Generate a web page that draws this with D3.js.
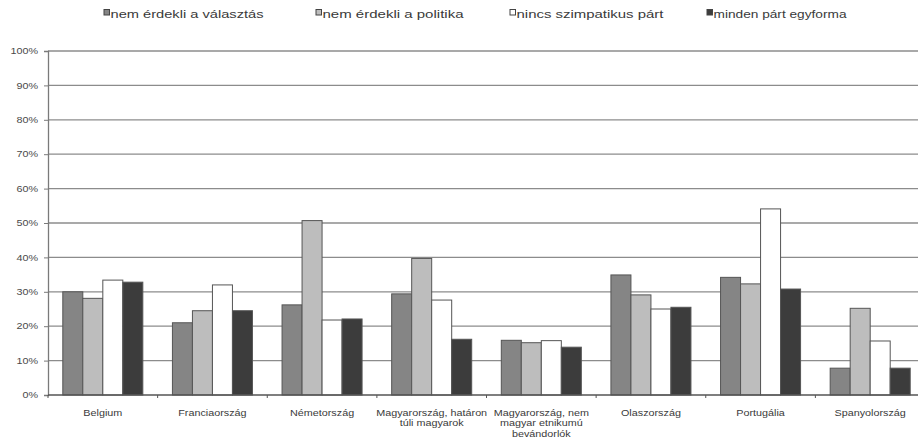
<!DOCTYPE html>
<html>
<head>
<meta charset="utf-8">
<script src="https://cdn.jsdelivr.net/npm/d3@7"></script>
<style>
  body { margin: 0; background: #fff; }
  svg { display: block; font-family: "Liberation Sans", Arial, sans-serif; }
</style>
</head>
<body>
<div id="content"></div>
<script>
// categories (countries), line breaks as in the original
const countries = [
    ["Belgium"],
    ["Franciaország"],
    ["Németország"],
    ["Magyarország, határon", "túli magyarok"],
    ["Magyarország, nem", "magyar etnikumú", "bevándorlók"],
    ["Olaszország"],
    ["Portugália"],
    ["Spanyolország"]
];

const seriesNames = [
    "nem érdekli a választás",
    "nem érdekli a politika",
    "nincs szimpatikus párt",
    "minden párt egyforma"
];

// values in percent, one array per series
const valasztas = [30.0, 21.0, 26.2, 29.4, 15.9, 34.9, 34.2, 7.8];
const politika  = [28.1, 24.5, 50.7, 39.7, 15.2, 29.1, 32.3, 25.2];
const szimpat   = [33.4, 32.0, 21.8, 27.6, 15.8, 25.0, 54.1, 15.7];
const egyforma  = [32.8, 24.5, 22.1, 16.2, 13.9, 25.5, 30.8, 7.8];

const yTicks = [0, 10, 20, 30, 40, 50, 60, 70, 80, 90, 100];

const seriesColors = ["#858585", "#bdbdbd", "#ffffff", "#3c3c3c"];

function init() {
    let width = 918,
        height = 441;
    let left = 48, right = 925, top = 51, bottom = 395;
    // the original picture is stretched sideways, so is the text
    let stretch = 1.27;

    let svg = d3.select("#content")
        .append("svg")
        .attr("width", width)
        .attr("height", height);

    let allSeries = [valasztas, politika, szimpat, egyforma];

    let x = d3.scaleBand()
        .domain(d3.range(countries.length))
        .range([left, right])
        .padding(0);

    let x1 = d3.scaleBand()
        .domain(d3.range(seriesNames.length))
        .range([0, x.bandwidth()])
        .paddingOuter(0.74)
        .paddingInner(0);

    let y = d3.scaleLinear().domain([0, 100]).range([bottom, top]);

    // grid lines
    svg.append("g")
        .selectAll("line")
        .data(yTicks.filter(d => d > 0))
        .enter()
        .append("line")
        .attr("x1", left)
        .attr("x2", width)
        .attr("y1", d => y(d))
        .attr("y2", d => y(d))
        .attr("stroke", "#8c8c8c")
        .attr("stroke-width", 1.3);

    // y axis
    let yAxis = svg.append("g")
        .attr("transform", `translate(${left},0)`)
        .call(d3.axisLeft(y).tickValues(yTicks).tickFormat(d => d + "%").tickSize(4));
    yAxis.select(".domain").attr("stroke", "#7a7a7a").attr("stroke-width", 1.3);
    yAxis.selectAll(".tick line").attr("stroke", "#7a7a7a");
    yAxis.selectAll("text")
        .attr("x", 0)
        .attr("transform", `translate(-10,0) scale(${stretch},1)`)
        .style("font-size", "8.5px")
        .style("fill", "#4a4a4a");

    // bars
    let groups = svg.append("g")
        .selectAll("g")
        .data(countries)
        .enter()
        .append("g")
        .attr("transform", (d, i) => `translate(${x(i)},0)`);

    groups.selectAll("rect")
        .data((d, i) => allSeries.map((s, j) => ({ s: j, v: s[i] })))
        .enter()
        .append("rect")
        .attr("x", d => x1(d.s))
        .attr("width", x1.bandwidth())
        .attr("y", d => y(d.v))
        .attr("height", d => bottom - y(d.v))
        .attr("fill", d => seriesColors[d.s])
        .attr("stroke", "#555")
        .attr("stroke-width", 1);

    // x axis
    let xAxis = svg.append("g")
        .attr("transform", `translate(0,${bottom})`);
    xAxis.append("line")
        .attr("x1", left)
        .attr("x2", width)
        .attr("stroke", "#555")
        .attr("stroke-width", 1.5);
    xAxis.selectAll(".tk")
        .data(d3.range(countries.length + 1))
        .enter()
        .append("line")
        .attr("x1", d => left + d * x.step())
        .attr("x2", d => left + d * x.step())
        .attr("y1", 0)
        .attr("y2", 3)
        .attr("stroke", "#555");

    // category labels
    let labels = svg.append("g")
        .selectAll("text")
        .data(countries)
        .enter()
        .append("text")
        .attr("transform", (d, i) => `translate(${x(i) + x.bandwidth() / 2},416) scale(${stretch},1)`)
        .attr("text-anchor", "middle")
        .style("font-size", "8.5px")
        .style("fill", "#3a3a3a");
    labels.selectAll("tspan")
        .data(d => d)
        .enter()
        .append("tspan")
        .attr("x", 0)
        .attr("dy", (d, i) => i === 0 ? 0 : 10.3)
        .text(d => d);

    // legend
    let legendX = [104, 316, 510, 707];
    let legendLen = [153, 141, 147, 133];
    let legend = svg.append("g")
        .selectAll("g")
        .data(seriesNames)
        .enter()
        .append("g")
        .attr("transform", (d, i) => `translate(${legendX[i]},9.5)`);
    legend.append("rect")
        .attr("width", 5.5)
        .attr("height", 5.5)
        .attr("fill", (d, i) => seriesColors[i])
        .attr("stroke", "#444")
        .attr("stroke-width", 1);
    legend.append("text")
        .attr("x", 6.5)
        .attr("y", 8)
        .attr("textLength", (d, i) => legendLen[i])
        .attr("lengthAdjust", "spacingAndGlyphs")
        .style("font-size", "11px")
        .style("fill", "#3a3a3a")
        .text(d => d);
}
init();
</script>
</body>
</html>
